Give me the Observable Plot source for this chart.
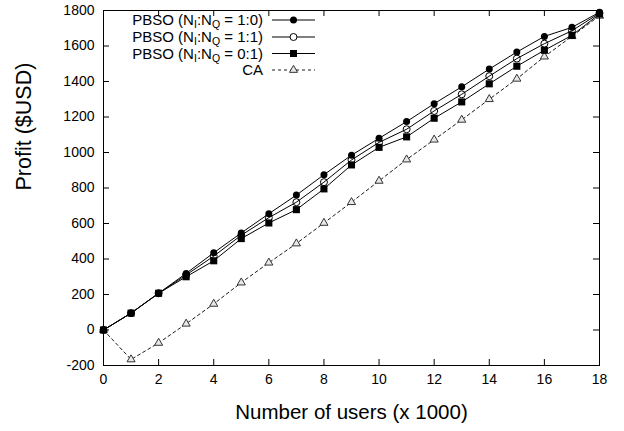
<!DOCTYPE html>
<html>
<head>
<meta charset="utf-8">
<script src="https://cdn.jsdelivr.net/npm/d3@7"></script>
<script src="https://cdn.jsdelivr.net/npm/@observablehq/plot@0.6"></script>
<style>
  html, body { margin: 0; padding: 0; background: white; }
  #chart { width: 624px; height: 431px; }
</style>
</head>
<body>
<div id="chart"></div>
<script>
// ---- data ----
const users = [0, 1, 2, 3, 4, 5, 6, 7, 8, 9, 10, 11, 12, 13, 14, 15, 16, 17, 18];
const pbso10 = [0, 95, 207, 319, 435, 547, 655, 760, 875, 985, 1080, 1174, 1275, 1370, 1470, 1566, 1654, 1705, 1790];
const pbso11 = [0, 95, 207, 310, 416, 534, 633, 720, 833, 958, 1057, 1131, 1234, 1328, 1430, 1529, 1613, 1686, 1785];
const pbso01 = [0, 95, 207, 300, 390, 515, 603, 678, 795, 930, 1029, 1088, 1193, 1285, 1387, 1486, 1576, 1660, 1780];
const ca     = [0, -166, -73, 35, 147, 267, 379, 487, 603, 720, 840, 960, 1072, 1184, 1300, 1415, 1540, 1655, 1770];
const xTicks = [0, 2, 4, 6, 8, 10, 12, 14, 16, 18];
const yTicks = [-200, 0, 200, 400, 600, 800, 1000, 1200, 1400, 1600, 1800];
const xTitle = "Number of users (x 1000)";
const yTitle = "Profit ($USD)";
const legendRatios = ["1:0", "1:1", "0:1"];
const legendCA = "CA";

const toRows = (vals) => users.map((u, i) => ({x: u, y: vals[i]}));
const d10 = toRows(pbso10), d11 = toRows(pbso11), d01 = toRows(pbso01), dca = toRows(ca);

const W = 624, H = 431, mL = 103, mR = 25, mT = 10, mB = 66;
const frameH = H - mT - mB, frameW = W - mL - mR;
const tk = 6;
const FONT = "'Liberation Sans', Arial, Helvetica, sans-serif";

const chart = Plot.plot({
  width: W, height: H,
  marginLeft: mL, marginRight: mR, marginTop: mT, marginBottom: mB,
  style: {fontFamily: FONT, fontSize: "14px", color: "black", background: "white"},
  x: {domain: [0, 18]},
  y: {domain: [-200, 1800]},
  marks: [
    Plot.axisX({ticks: xTicks, tickSize: 0, tickPadding: 9, label: null, fontSize: 14, tickFormat: d => String(d)}),
    Plot.axisY({ticks: yTicks, tickSize: 0, tickPadding: 9, label: null, fontSize: 14, tickFormat: d => String(d)}),
    // inward ticks (bottom/top)
    Plot.tickX(xTicks, {x: d => d, insetTop: frameH - tk, stroke: "black"}),
    Plot.tickX(xTicks, {x: d => d, insetBottom: frameH - tk, stroke: "black"}),
    // inward ticks (left/right)
    Plot.tickY(yTicks, {y: d => d, insetRight: frameW - tk, stroke: "black"}),
    Plot.tickY(yTicks, {y: d => d, insetLeft: frameW - tk, stroke: "black"}),
    // CA
    Plot.line(dca, {x: "x", y: "y", stroke: "black", strokeWidth: 0.9, strokeDasharray: "3,3"}),
    Plot.dot(dca, {x: "x", y: "y", symbol: "triangle", r: 3, fill: "#e8e8e8", stroke: "#333", strokeWidth: 1}),
    // PBSO 0:1
    Plot.line(d01, {x: "x", y: "y", stroke: "black", strokeWidth: 1}),
    Plot.dot(d01, {x: "x", y: "y", symbol: "square", r: 4, fill: "black", stroke: "none"}),
    // PBSO 1:1
    Plot.line(d11, {x: "x", y: "y", stroke: "black", strokeWidth: 1}),
    Plot.dot(d11, {x: "x", y: "y", symbol: "circle", r: 3.5, fill: "none", stroke: "black", strokeWidth: 1}),
    // PBSO 1:0
    Plot.line(d10, {x: "x", y: "y", stroke: "black", strokeWidth: 1}),
    Plot.dot(d10, {x: "x", y: "y", symbol: "circle", r: 3.5, fill: "black", stroke: "none"}),
    Plot.frame({stroke: "black", strokeWidth: 1}),
    // axis titles
    Plot.text([xTitle], {frameAnchor: "bottom", dy: 47, fontSize: 20.5, lineAnchor: "middle"}),
    Plot.text([yTitle], {frameAnchor: "left", dx: -79, dy: 2.5, rotate: -90, fontSize: 21.5, lineAnchor: "middle"})
  ]
});
document.getElementById("chart").appendChild(chart);

// ---- legend (inside plot, top-left) ----
const svg = d3.select(chart);
const lg = svg.append("g")
  .attr("font-family", FONT)
  .attr("font-size", 15);
const textRight = 263, lineX1 = 272, lineX2 = 315, markX = 293.5;
const rowsY = [20, 37, 53.5, 70];
const sym = d3.symbol();
legendRatios.forEach((ratio, i) => {
  const y = rowsY[i];
  const t = lg.append("text").attr("x", textRight).attr("y", y).attr("dy", "0.35em").attr("text-anchor", "end");
  t.append("tspan").text("PBSO (N");
  t.append("tspan").attr("dy", 3).attr("font-size", 10.5).text("I");
  t.append("tspan").attr("dy", -3).text(":N");
  t.append("tspan").attr("dy", 3).attr("font-size", 10.5).text("Q");
  t.append("tspan").attr("dy", -3).text(" = " + ratio + ")");
  lg.append("line").attr("x1", lineX1).attr("x2", lineX2).attr("y1", y).attr("y2", y).attr("stroke", "black");
  if (i === 0) lg.append("circle").attr("cx", markX).attr("cy", y).attr("r", 3.5).attr("fill", "black");
  if (i === 1) lg.append("circle").attr("cx", markX).attr("cy", y).attr("r", 3.5).attr("fill", "white").attr("stroke", "black");
  if (i === 2) lg.append("rect").attr("x", markX - 3.5).attr("y", y - 3.5).attr("width", 7).attr("height", 7).attr("fill", "black");
});
{
  const y = rowsY[3];
  lg.append("text").attr("x", textRight).attr("y", y).attr("dy", "0.35em").attr("text-anchor", "end").text(legendCA);
  lg.append("line").attr("x1", lineX1).attr("x2", lineX2).attr("y1", y).attr("y2", y)
    .attr("stroke", "black").attr("stroke-width", 0.9).attr("stroke-dasharray", "3,3");
  lg.append("path").attr("d", sym.type(d3.symbolTriangle).size(Math.PI * 9)())
    .attr("transform", `translate(${markX},${y})`).attr("fill", "#e8e8e8").attr("stroke", "#333");
}
</script>
</body>
</html>
